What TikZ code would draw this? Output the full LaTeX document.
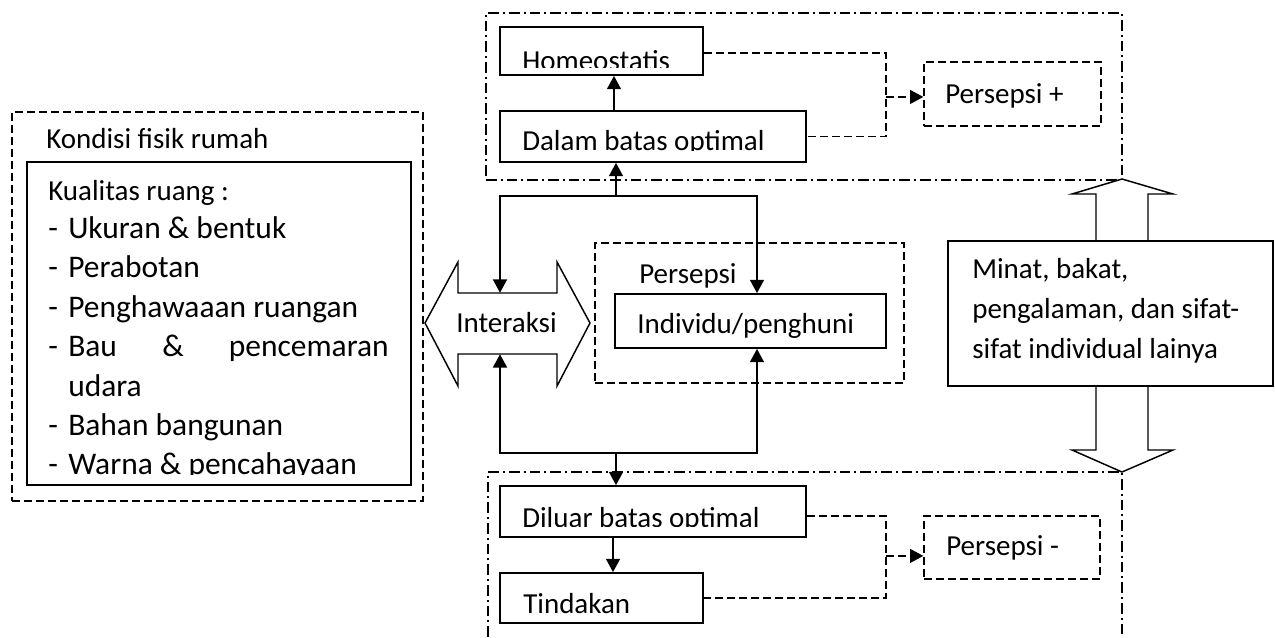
\documentclass[tikz,border=0pt]{standalone}
\usepackage{fontspec}
\setmainfont{Carlito}
\usetikzlibrary{arrows.meta,fit}
\newcommand{\fsA}{\fontsize{21.75pt}{26pt}\selectfont}
\newcommand{\fsB}{\fontsize{23.6pt}{28pt}\selectfont}
\begin{document}
\begin{tikzpicture}[x=0.75pt,y=-0.75pt,
  solidbox/.style={draw, line width=1.35pt, inner sep=0pt, fill=white},
  dbox/.style={draw, dash pattern=on 6pt off 3pt, line width=1pt, inner sep=0pt},
  ddbox/.style={draw, dash pattern=on 8pt off 3pt on 1.5pt off 3pt, line width=0.8pt, inner sep=0pt},
  ddline/.style={dash pattern=on 8pt off 3pt on 1.5pt off 3pt, line width=0.8pt},
  conn/.style={line width=1.3pt, -{Triangle[length=10pt,width=10.5pt]}},
  dconn/.style={line width=1pt, dash pattern=on 6pt off 3pt},
  dconnarr/.style={line width=1pt, dash pattern=on 6pt off 3pt, -{Triangle[length=10pt,width=10.5pt]}},
  lbl/.style={anchor=base west, inner sep=0pt, font=\fsA},
  item/.style={anchor=base west, inner sep=0pt, font=\fsB},
  bigarrow/.style={draw, line width=1.1pt, fill=white, line join=miter},
  area/.style={inner sep=0pt}
]
\useasboundingbox (0,0) rectangle (1275,637);

% ---------- dash-dot frames ----------
\node[ddbox, fit={(486,13)(1122,180)}] (optframe) {};
\draw[ddline] (488,637) -- (488,472) -- (1122,472) -- (1122,637);

% ---------- big vertical double arrow + Minat box ----------
\draw[bigarrow] (1122,179) -- (1173,194) -- (1148,194) -- (1148,450) -- (1173,450)
  -- (1122,472) -- (1072,450) -- (1096,450) -- (1096,194) -- (1072,194) -- cycle;
\node[solidbox, fit={(948,241)(1273,386)}] (minat) {};
\node[lbl] (tminat1) at (972,278) {Minat, bakat,};
\node[lbl] (tminat2) at (972,318) {pengalaman, dan sifat-};
\node[lbl] (tminat3) at (972,358) {sifat individual lainya};

% ---------- left: Kondisi fisik rumah ----------
\node[dbox, fit={(12,112)(423,501)}] (kondisi) {};
\node[lbl] (tkondisi) at (46,148) {Kondisi fisik rumah};
\node[solidbox, fit={(27,162)(411,485)}] (kualitas) {};
\begin{scope}
  \clip (27,162) rectangle (411,474.5);
  \node[lbl] (tkual) at (48,200) {Kualitas ruang :};
  \node[item] (d1) at (48,238) {-};   \node[item] (i1) at (68,238) {Ukuran \& bentuk};
  \node[item] (d2) at (48,277) {-};   \node[item] (i2) at (68,277) {Perabotan};
  \node[item] (d3) at (48,317) {-};   \node[item] (i3) at (68,317) {Penghawaaan ruangan};
  \node[item] (d4) at (48,356) {-};   \node[item] (i4) at (68,356) {Bau};
  \node[item] (i4b) at (162,356) {\&};
  \node[item, anchor=base east] (i4c) at (389,356) {pencemaran};
  \node[item] (i4d) at (68,396) {udara};
  \node[item] (d5) at (48,435) {-};   \node[item] (i5) at (68,435) {Bahan bangunan};
  \node[item] (d6) at (48,474.5) {-};   \node[item] (i6) at (68,474.5) {Warna \& pencahayaan};
\end{scope}

% ---------- Interaksi double arrow ----------
\draw[bigarrow] (425,323) -- (458,262) -- (458,293) -- (557,293) -- (557,262) -- (590,323)
  -- (557,386) -- (557,354) -- (458,354) -- (458,386) -- cycle;
\node[area, fit={(458,293)(557,354)}] (inter) {};
\node[lbl] (tinter) at (456,332) {Interaksi};

% ---------- Persepsi / Individu ----------
\node[dbox, fit={(595,243)(904,383)}] (persbox) {};
\node[lbl] (tpers) at (639,283) {Persepsi};
\node[solidbox, fit={(615,294)(886,348)}] (indiv) {};
\node[lbl] (tindiv) at (637,333) {Individu/penghuni};

% ---------- top group ----------
\node[solidbox, fit={(500,27)(703,75)}] (homeo) {};
\node[solidbox, fit={(500,111)(806,162)}] (dalam) {};
\begin{scope}
  \clip (500,27) rectangle (703,67);
  \node[lbl] (thomeo) at (522,70) {Homeostatis};
\end{scope}
\begin{scope}
  \clip (500,111) rectangle (806,150);
  \node[lbl] (tdalam) at (522,150) {Dalam batas optimal};
\end{scope}
\node[dbox, fit={(924,62)(1101,126)}] (plus) {};
\node[lbl] (tplus) at (945,103) {Persepsi +};

% ---------- bottom group ----------
\node[solidbox, fit={(500,486)(806,537)}] (diluar) {};
\node[solidbox, fit={(500,573)(703,623)}] (tindakan) {};
\begin{scope}
  \clip (500,486) rectangle (806,526.5);
  \node[lbl] (tdiluar) at (522,527) {Diluar batas optimal};
\end{scope}
\node[lbl] (ttind) at (523,613) {Tindakan};
\node[dbox, fit={(924,516)(1100,579)}] (minus) {};
\node[lbl] (tminus) at (946,555) {Persepsi -};

% ---------- solid connectors ----------
\coordinate (jt) at (616,196);
\coordinate (jtl) at (500,196);
\coordinate (jtr) at (757,196);
\coordinate (jb) at (616,453);
\coordinate (jbl) at (500,453);
\coordinate (jbr) at (757,453);
\coordinate (xa) at (614,0);
\coordinate (xb) at (613,0);
\draw[conn] (jt) -- (jt |- dalam.south);
\draw[conn] (jt) -- (jtl) -- (jtl |- inter.north);
\draw[conn] (jt) -- (jtr) -- (jtr |- indiv.north);
\draw[conn] (jb) -- (jbl) -- (jbl |- inter.south);
\draw[conn] (jb) -- (jbr) -- (jbr |- indiv.south);
\draw[conn] (jb) -- (jb |- diluar.north);
\draw[conn] (xa |- dalam.north) -- (xa |- homeo.south);
\draw[conn] (xb |- diluar.south) -- (xb |- tindakan.north);

% ---------- dashed connectors ----------
\coordinate (px) at (886,0);
\coordinate (he) at ([yshift=-1.5pt]homeo.east);
\coordinate (pw) at ([yshift=-2.2pt]plus.west);
\coordinate (de) at ([yshift=-3.4pt]diluar.east);
\coordinate (mw) at ([yshift=-6.3pt]minus.west);
\draw[dconn] (he) -| (px |- dalam.east) -- (dalam.east);
\draw[dconnarr] (px |- pw) -- (pw);
\draw[dconn] (de) -| (px |- tindakan.east) -- (tindakan.east);
\draw[dconnarr] (px |- mw) -- (mw);
\end{tikzpicture}
\end{document}
